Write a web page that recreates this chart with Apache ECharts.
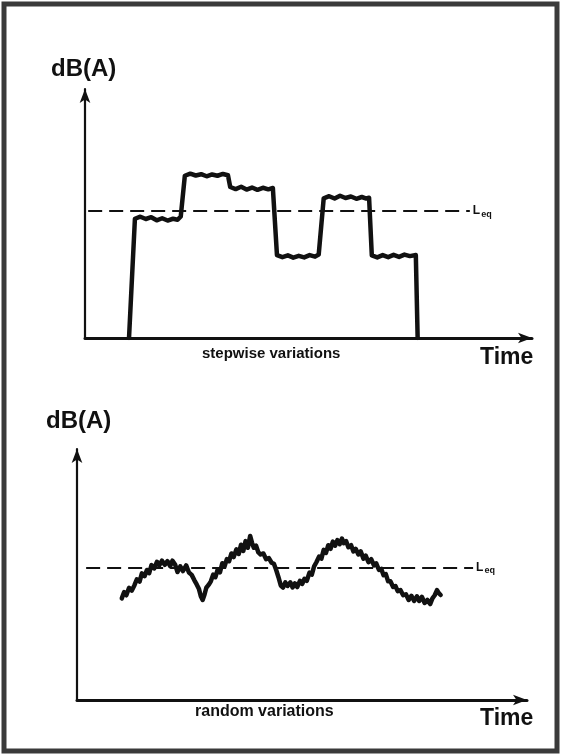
<!DOCTYPE html>
<html>
<head>
<meta charset="utf-8">
<style>
  html, body { margin: 0; padding: 0; background: #fff; }
  #chart { width: 562px; height: 756px; }
</style>
<script src="https://cdn.jsdelivr.net/npm/echarts@6/dist/echarts.min.js"></script>
</head>
<body>
<div id="chart"></div>
<script>
// ---- data (time units 0..100, level units 0..100) ----
const panelTitles = ['stepwise variations', 'random variations'];
const axisNameY = 'dB(A)';
const axisNameX = 'Time';
const leqTop = 49.6;
const leqBottom = 51.2;
const leqSpanTop = [0.7, 84.8];
const leqSpanBottom = [2.0, 86.7];

const stepSignal = [
  [9.7, 0], [11.0, 46.6], [12.2, 47.4], [13.4, 46.5], [14.6, 47.2], [15.8, 46.0], [17.0, 46.8],
  [18.2, 45.9], [19.4, 46.6], [20.4, 46.2], [21.1, 47.5], [22.0, 63.4], [23.2, 64.2], [24.4, 63.5],
  [25.6, 64.0], [26.8, 63.2], [28.0, 63.9], [29.2, 63.4], [30.4, 64.1], [31.5, 63.6], [32.0, 59.0],
  [33.2, 58.2], [34.4, 59.1], [35.6, 58.0], [36.8, 58.8], [38.0, 57.9], [39.2, 58.7], [40.4, 58.1],
  [41.4, 58.6], [42.3, 32.4], [43.5, 31.6], [44.7, 32.3], [45.9, 31.4], [47.1, 32.1], [48.3, 31.5],
  [49.5, 32.4], [50.7, 31.8], [51.5, 32.6], [52.6, 54.6], [53.8, 55.4], [55.0, 54.5], [56.2, 55.6],
  [57.4, 54.7], [58.6, 55.3], [59.8, 54.4], [61.0, 55.1], [62.0, 54.5], [62.6, 54.8], [63.2, 32.3],
  [64.4, 31.5], [65.6, 32.4], [66.8, 31.6], [68.0, 32.5], [69.2, 31.7], [70.4, 32.6], [71.6, 32.0],
  [72.9, 32.4], [73.3, 0]
];

const randomSignal = [
  [9.8, 39.4], [10.3, 41.8], [10.8, 40.6], [11.4, 43.5], [12.0, 42.4], [12.6, 44.6], [13.1, 46.8],
  [13.7, 45.9], [14.2, 49.1], [14.8, 48.0], [15.3, 50.4], [15.8, 49.2], [16.3, 52.3], [16.9, 51.0],
  [17.5, 53.6], [18.0, 52.2], [18.6, 54.0], [19.2, 52.4], [19.8, 53.8], [20.4, 51.9], [20.9, 54.0],
  [21.5, 52.4], [22.0, 49.6], [22.6, 51.8], [23.2, 50.0], [23.9, 52.2], [24.5, 49.4], [25.1, 48.5],
  [25.7, 46.4], [26.2, 44.8], [26.7, 43.0], [27.1, 40.2], [27.5, 38.8], [27.9, 40.8], [28.3, 43.5],
  [28.8, 44.6], [29.3, 46.0], [29.8, 48.6], [30.3, 47.6], [30.8, 50.6], [31.3, 49.5], [31.8, 53.0],
  [32.3, 51.8], [32.8, 54.6], [33.3, 53.8], [33.8, 56.8], [34.3, 55.4], [34.9, 58.4], [35.4, 56.6],
  [35.9, 60.2], [36.4, 57.8], [36.9, 61.6], [37.4, 59.0], [37.9, 63.6], [38.3, 61.0], [38.7, 59.0],
  [39.2, 59.8], [39.7, 57.2], [40.2, 56.4], [40.8, 56.8], [41.4, 54.6], [42.0, 55.0], [42.6, 53.2],
  [43.1, 52.8], [43.6, 50.4], [44.1, 47.6], [44.6, 44.4], [45.1, 43.6], [45.6, 45.6], [46.1, 44.2],
  [46.7, 45.6], [47.2, 43.6], [47.7, 45.2], [48.2, 43.8], [48.8, 46.2], [49.3, 45.0], [49.8, 47.0],
  [50.3, 46.2], [50.9, 49.4], [51.4, 48.6], [51.9, 51.8], [52.4, 53.4], [53.0, 55.6], [53.5, 54.8],
  [54.0, 58.2], [54.5, 57.0], [55.0, 60.0], [55.5, 58.6], [56.0, 61.4], [56.5, 59.8], [57.0, 62.0],
  [57.5, 60.4], [58.0, 62.6], [58.4, 60.8], [58.9, 61.6], [59.4, 59.2], [60.0, 60.0], [60.5, 57.6],
  [61.0, 58.6], [61.6, 56.4], [62.1, 57.6], [62.7, 54.8], [63.2, 56.0], [63.8, 53.4], [64.4, 54.6],
  [65.0, 52.2], [65.5, 53.0], [66.1, 50.4], [66.6, 50.8], [67.1, 48.4], [67.6, 48.8], [68.1, 46.0],
  [68.6, 46.0], [69.2, 43.8], [69.7, 44.2], [70.2, 42.2], [70.8, 42.6], [71.4, 40.6], [72.0, 41.0],
  [72.6, 38.8], [73.2, 40.4], [73.8, 38.4], [74.4, 40.2], [74.9, 38.4], [75.5, 40.0], [76.1, 37.6],
  [76.7, 38.8], [77.3, 37.2], [77.8, 39.4], [78.3, 40.6], [78.8, 42.6], [79.2, 41.4], [79.6, 40.7]
];

// ---- chart ----
const chart = echarts.init(document.getElementById('chart'), null, { renderer: 'canvas' });
const FONT = '"Liberation Sans", Arial, sans-serif';
const INK = '#111';

function axisBase(gridIndex, max, width) {
  return {
    gridIndex, type: 'value', min: 0, max,
    axisLine: { show: true, onZero: false, symbol: ['none', 'arrow'], symbolSize: [8, 14],
      lineStyle: { color: INK, width } },
    axisTick: { show: false }, axisLabel: { show: false }, splitLine: { show: false }
  };
}

function leqLine(y, span) {
  return {
    silent: true, symbol: ['none', 'none'],
    lineStyle: { color: INK, width: 2, type: [14, 7] },
    label: {
      show: true, position: 'end', distance: 3,
      formatter: '{a|L}{b|eq}',
      rich: {
        a: { fontFamily: FONT, fontWeight: 'bold', fontSize: 12, color: INK },
        b: { fontFamily: FONT, fontWeight: 'bold', fontSize: 9, color: INK, padding: [6, 0, 0, 1] }
      }
    },
    data: [[{ coord: [span[0], y] }, { coord: [span[1], y] }]]
  };
}

const option = {
  backgroundColor: '#fff',
  animation: false,
  grid: [
    { left: 85, top: 89, right: 30, bottom: 418 },
    { left: 77, top: 449, right: 35, bottom: 56 }
  ],
  xAxis: [axisBase(0, 98.5, 3), axisBase(1, 98.5, 3)],
  yAxis: [axisBase(0, 97.3, 2.2), axisBase(1, 97.3, 2.2)],
  series: [
    {
      type: 'line', xAxisIndex: 0, yAxisIndex: 0, data: stepSignal, showSymbol: false,
      lineStyle: { color: INK, width: 4.5, join: 'round', cap: 'round' },
      markLine: leqLine(leqTop, leqSpanTop)
    },
    {
      type: 'line', xAxisIndex: 1, yAxisIndex: 1, data: randomSignal, showSymbol: false,
      lineStyle: { color: INK, width: 4.5, join: 'round', cap: 'round' },
      markLine: leqLine(leqBottom, leqSpanBottom)
    }
  ],
  graphic: [
    { type: 'rect', shape: { x: 4, y: 4, width: 553, height: 747 },
      style: { fill: 'none', stroke: '#3a3a3a', lineWidth: 5 }, silent: true },
    { type: 'text', left: 51, top: 57,
      style: { text: axisNameY, font: 'bold 24px ' + FONT, fill: INK } },
    { type: 'text', left: 480, top: 346,
      style: { text: axisNameX, font: 'bold 23px ' + FONT, fill: INK } },
    { type: 'text', left: 202, top: 346,
      style: { text: panelTitles[0], font: 'bold 15px ' + FONT, fill: INK } },
    { type: 'text', left: 46, top: 409,
      style: { text: axisNameY, font: 'bold 24px ' + FONT, fill: INK } },
    { type: 'text', left: 480, top: 707,
      style: { text: axisNameX, font: 'bold 23px ' + FONT, fill: INK } },
    { type: 'text', left: 195, top: 704,
      style: { text: panelTitles[1], font: 'bold 16px ' + FONT, fill: INK } }
  ]
};
chart.setOption(option);
</script>
</body>
</html>
